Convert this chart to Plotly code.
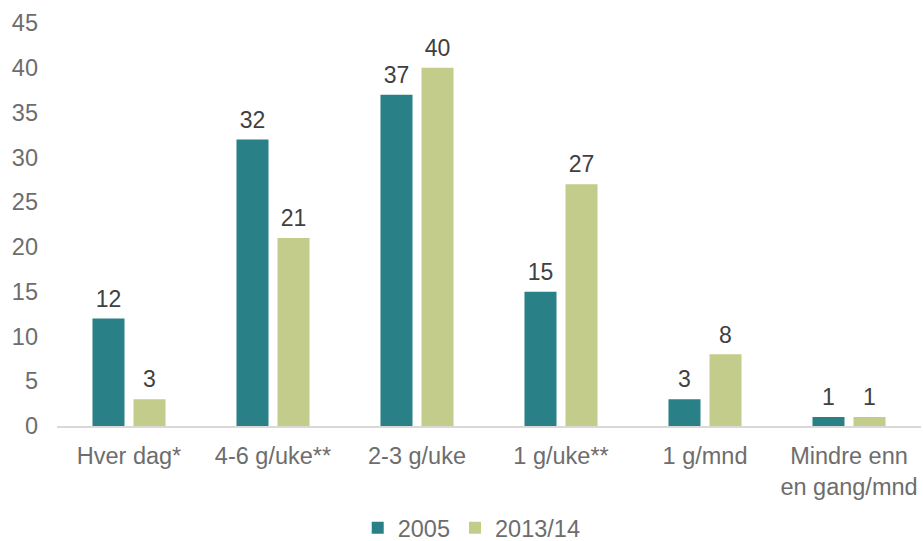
import plotly.graph_objects as go

categories = ["Hver dag*", "4-6 g/uke**", "2-3 g/uke", "1 g/uke**", "1 g/mnd", "Mindre enn<br>en gang/mnd"]
values_2005 = [12, 32, 37, 15, 3, 1]
values_2013 = [3, 21, 40, 27, 8, 1]

teal = "#2a8087"
green = "#c3cc8a"
font = "Liberation Sans, Arial, sans-serif"

fig = go.Figure()
for name, vals, col in [("2005", values_2005, teal), ("2013/14", values_2013, green)]:
    fig.add_trace(go.Bar(x=categories, y=vals, name=name, marker=dict(color=col, line=dict(width=0))))
    # value labels sit a bit higher than plotly's bar text, so use an invisible scatter
    fig.add_trace(go.Scatter(
        x=categories, y=vals, mode="markers+text", text=vals,
        textposition="top center", textfont=dict(size=23, color="#404040"),
        marker=dict(size=8, opacity=0), showlegend=False, hoverinfo="skip",
        cliponaxis=False,
    ))

fig.update_layout(
    width=923, height=541,
    margin=dict(l=57, r=2, t=23, b=115, autoexpand=False),
    paper_bgcolor="white", plot_bgcolor="white",
    font=dict(family=font, size=23.5, color="#6d6d6d"),
    barmode="group", bargap=0.43, bargroupgap=0.22,
    scattermode="group", scattergap=0.43,
    showlegend=True,
    legend=dict(orientation="h", x=0.48, xanchor="center", yref="container", y=0.024, yanchor="middle",
                font=dict(size=23.5, color="#6d6d6d"), itemwidth=30, traceorder="normal"),
    xaxis=dict(showline=True, linecolor="#d9d9d9", linewidth=2, ticks="", automargin=False,
               tickfont=dict(size=23.5, color="#6d6d6d"), ticklabelstandoff=8),
    yaxis=dict(range=[0, 45], dtick=5, showgrid=False, zeroline=False, showline=False, automargin=False,
               ticks="", tickfont=dict(size=23.5, color="#6d6d6d"), ticklabelstandoff=18),
)

fig.write_html("out.html", config={"displayModeBar": False},
               post_script="document.body.style.margin='0';")
